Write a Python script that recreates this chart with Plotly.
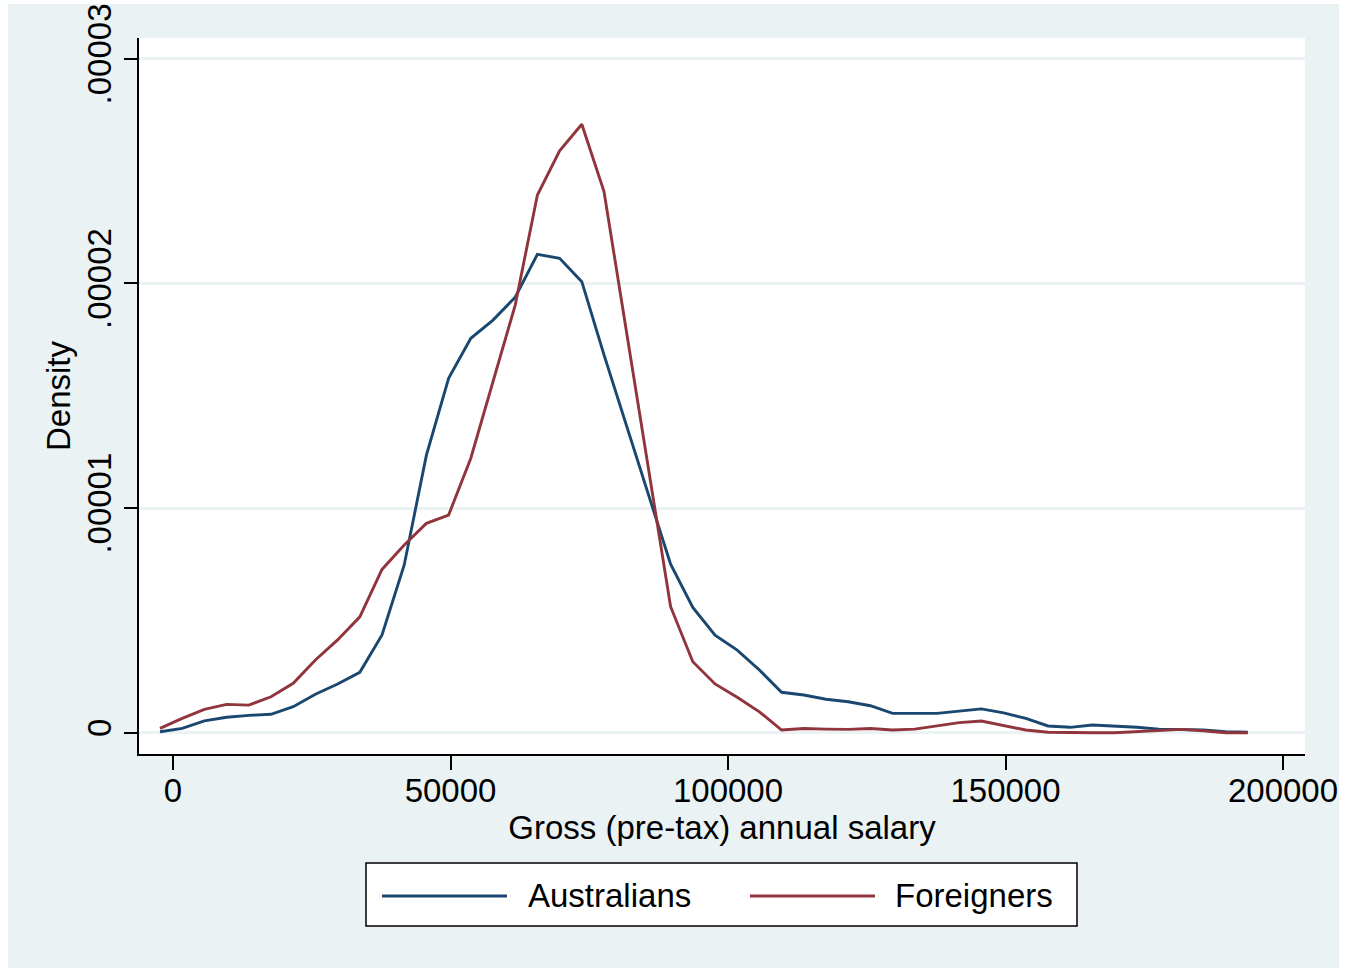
import plotly.graph_objects as go

# Gross (pre-tax) annual salary grid (kernel density evaluation points)
salary = [-2340, 1660, 5660, 9660, 13660, 17660, 21660, 25660, 29660, 33660,
          37660, 41660, 45660, 49660, 53660, 57660, 61660, 65660, 69660, 73660,
          77660, 81660, 85660, 89660, 93660, 97660, 101660, 105660, 109660, 113660,
          117660, 121660, 125660, 129660, 133660, 137660, 141660, 145660, 149660, 153660,
          157660, 161660, 165660, 169660, 173660, 177660, 181660, 185660, 189660, 193660]

# Density values (in units of 1e-5)
australians = [0.0045, 0.0196, 0.053, 0.069, 0.077, 0.082, 0.116, 0.171, 0.217, 0.269,
               0.435, 0.747, 1.236, 1.578, 1.756, 1.837, 1.939, 2.130, 2.112, 2.008,
               1.682, 1.370, 1.058, 0.750, 0.558, 0.434, 0.368, 0.279, 0.180, 0.168,
               0.149, 0.138, 0.120, 0.086, 0.086, 0.086, 0.096, 0.106, 0.088, 0.064,
               0.030, 0.024, 0.034, 0.030, 0.024, 0.016, 0.015, 0.012, 0.0045, 0.002]

foreigners = [0.0196, 0.064, 0.104, 0.126, 0.123, 0.160, 0.220, 0.324, 0.413, 0.516,
              0.727, 0.836, 0.932, 0.969, 1.222, 1.563, 1.904, 2.394, 2.591, 2.709,
              2.409, 1.793, 1.177, 0.561, 0.316, 0.217, 0.158, 0.093, 0.012, 0.019,
              0.016, 0.015, 0.019, 0.012, 0.016, 0.031, 0.045, 0.052, 0.031, 0.012,
              0.002, 0.0, 0.0, 0.0, 0.0045, 0.012, 0.015, 0.009, 0.0, 0.0]

series_names = ["Australians", "Foreigners"]

SCALE = 1e-5
y_ticks = [0, 0.00001, 0.00002, 0.00003]
y_ticktext = ["0", ".00001", ".00002", ".00003"]
x_ticks = [0, 50000, 100000, 150000, 200000]
x_ticktext = ["0", "50000", "100000", "150000", "200000"]

NAVY = "#1A476F"
MAROON = "#90353B"
BG = "#EAF2F3"
FONT = "Liberation Sans, Arial, sans-serif"
FS = 33
LW = 2.9

fig = go.Figure()
fig.add_trace(go.Scatter(x=salary, y=[v * SCALE for v in australians], mode="lines",
                         name=series_names[0], line=dict(color=NAVY, width=LW),
                         showlegend=False))
fig.add_trace(go.Scatter(x=salary, y=[v * SCALE for v in foreigners], mode="lines",
                         name=series_names[1], line=dict(color=MAROON, width=LW),
                         showlegend=False))

# legend drawn as a Stata-style box (paper coordinates)
LEG_Y = -0.1983
shapes = [
    dict(type="rect", xref="paper", yref="paper", x0=-0.11235, x1=1.02916,
         y0=-0.31, y1=1.0475, fillcolor=BG, line=dict(width=0), layer="below"),
    dict(type="rect", xref="paper", yref="paper", x0=0, x1=1, y0=0, y1=1,
         fillcolor="white", line=dict(width=0), layer="below"),
    dict(type="rect", xref="paper", yref="paper", x0=0.19468, x1=0.80446,
         y0=-0.24022, y1=-0.15223, fillcolor="white", line=dict(color="black", width=1.5)),
    dict(type="line", xref="paper", yref="paper", x0=0.20840, x1=0.31561,
         y0=LEG_Y, y1=LEG_Y, line=dict(color=NAVY, width=LW)),
    dict(type="line", xref="paper", yref="paper", x0=0.52401, x1=0.63122,
         y0=LEG_Y, y1=LEG_Y, line=dict(color=MAROON, width=LW)),
]
annotations = [
    dict(text=series_names[0], xref="paper", yref="paper", x=0.3319, y=LEG_Y,
         xanchor="left", yanchor="middle", showarrow=False,
         font=dict(family=FONT, size=FS, color="black")),
    dict(text=series_names[1], xref="paper", yref="paper", x=0.6467, y=LEG_Y,
         xanchor="left", yanchor="middle", showarrow=False,
         font=dict(family=FONT, size=FS, color="black")),
]

fig.update_layout(
    width=1347, height=968,
    margin=dict(l=139, r=42, t=38, b=214, autoexpand=False),
    paper_bgcolor="white",
    plot_bgcolor="white",
    font=dict(family=FONT, size=FS, color="black"),
    showlegend=False,
    shapes=shapes,
    annotations=annotations,
)

fig.update_xaxes(
    range=[-6126, 203964], tickmode="array", tickvals=x_ticks, ticktext=x_ticktext,
    automargin=False,
    showgrid=False, zeroline=False, showline=True, linecolor="black", linewidth=1.5,
    ticks="outside", ticklen=14, tickwidth=1.5, tickcolor="black",
    ticklabelstandoff=-7,
    tickfont=dict(family=FONT, size=FS, color="black"),
    title=dict(text="Gross (pre-tax) annual salary", standoff=3,
               font=dict(family=FONT, size=FS, color="black")),
)
fig.update_yaxes(
    range=[-0.0948e-5, 3.093e-5], tickmode="array", tickvals=y_ticks, ticktext=y_ticktext,
    automargin=False,
    showgrid=True, gridcolor=BG, gridwidth=2.5, zeroline=False,
    showline=True, linecolor="black", linewidth=1.5,
    ticks="outside", ticklen=13, tickwidth=1.5, tickcolor="black", tickangle=-90,
    tickfont=dict(family=FONT, size=FS, color="black"),
    title=dict(text="Density", standoff=0,
               font=dict(family=FONT, size=FS, color="black")),
)

fig.write_html("out.html", config={"displayModeBar": False},
               post_script="document.body.style.margin='0px';")
